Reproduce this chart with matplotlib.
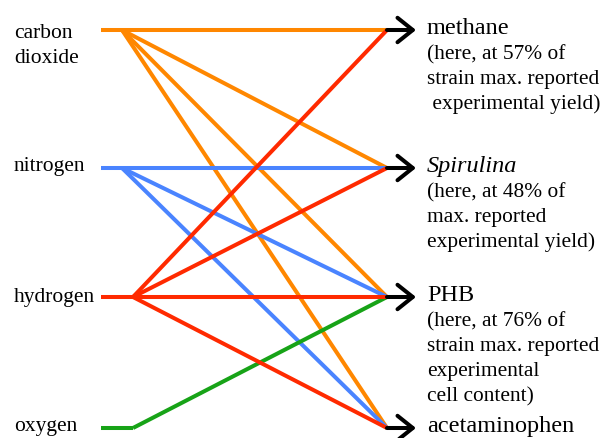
import matplotlib.pyplot as plt
from matplotlib.patches import FancyArrowPatch

# inputs (left) and products (right)
sources = ['carbon\ndioxide', 'nitrogen', 'hydrogen', 'oxygen']
source_colors = ['#ff8700', '#4a84ff', '#ff2a00', '#17a317']
products = ['methane', 'Spirulina', 'PHB', 'acetaminophen']
product_notes = [
    ['(here, at 57% of', 'strain max. reported', ' experimental yield)'],
    ['(here, at 48% of', 'max. reported', 'experimental yield)'],
    ['(here, at 76% of', 'strain max. reported', 'experimental', 'cell content)'],
    [],
]
# which product each input feeds
links = {
    'carbon\ndioxide': ['methane', 'Spirulina', 'PHB', 'acetaminophen'],
    'nitrogen': ['Spirulina', 'PHB', 'acetaminophen'],
    'hydrogen': ['methane', 'Spirulina', 'PHB', 'acetaminophen'],
    'oxygen': ['PHB'],
}

# layout (pixel coords of the 600x439 canvas)
row_y = [31, 169, 298, 429]
fan_x = [122, 122, 133, 133]
x_start, x_end = 101, 387
line_h = 25

plt.rcParams['font.family'] = ['Liberation Serif', 'DejaVu Serif']
fig = plt.figure(figsize=(6, 4.39), dpi=100)
ax = fig.add_axes([0, 0, 1, 1])
ax.set_xlim(0, 600)
ax.set_ylim(439, 0)
ax.axis('off')

lw = 2.9
draw_order = [0, 1, 3, 2]
for i in draw_order:
    name = sources[i]
    c = source_colors[i]
    ax.plot([x_start, fan_x[i]], [row_y[i], row_y[i]], color=c, lw=lw,
            solid_capstyle='butt', zorder=2)
    for p in links[name]:
        j = products.index(p)
        ax.plot([fan_x[i], x_end], [row_y[i], row_y[j]], color=c, lw=lw,
                solid_capstyle='butt', zorder=2)

# left labels
left_base = [38, 171, 302, 431]
for i, name in enumerate(sources):
    parts = name.split('\n')
    for k, s in enumerate(parts):
        ax.text(14, left_base[i] + k * line_h, s, fontsize=15.5,
                ha='left', va='baseline')

# arrows + product labels
for j, p in enumerate(products):
    arr = FancyArrowPatch((x_end, row_y[j]), (416, row_y[j]),
                          arrowstyle='->,head_length=0.5,head_width=0.4',
                          mutation_scale=22, lw=2.9, color='black',
                          shrinkA=0, shrinkB=0, zorder=3)
    ax.add_patch(arr)
    style = 'italic' if p == 'Spirulina' else 'normal'
    ax.text(427, row_y[j] + 3, p, fontsize=17.5, style=style,
            ha='left', va='baseline')
    for k, s in enumerate(product_notes[j]):
        ax.text(427, row_y[j] + 3 + (k + 1) * line_h, s, fontsize=15.4,
                ha='left', va='baseline')

fig.savefig('out.png', dpi=100)
